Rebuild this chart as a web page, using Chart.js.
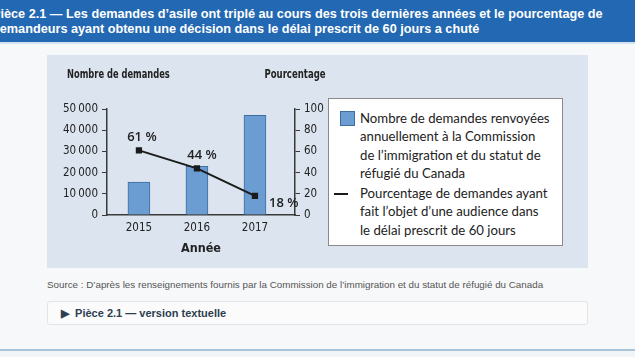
<!DOCTYPE html>
<html lang="fr">
<head>
<meta charset="utf-8">
<script src="https://cdn.jsdelivr.net/npm/chart.js@4/dist/chart.umd.min.js"></script>
<style>
  html, body { margin:0; padding:0; }
  body { width:635px; height:357px; background:#f7f8f9; position:relative; overflow:hidden; font-family:"Liberation Sans", Arial, sans-serif; }
  #hdr { position:absolute; left:0; top:0; width:635px; height:42px; background:#2268b2; border-bottom:2px solid #d5e3f1; }
  #hdr div { position:absolute; left:-8px; top:7px; color:#fff; font-weight:bold; font-size:12.7px; line-height:15px; white-space:nowrap; }
  #box { position:absolute; left:47px; top:55px; width:541px; height:213px; background:#dbe4ef; }
  #cv { position:absolute; left:0; top:0; }
  #legend { position:absolute; left:281px; top:43px; width:233px; height:146px; background:#fff; border:1px solid #8a8a8a; font-family:Lato, "Open Sans", sans-serif; font-size:13.2px; color:#222; }
  .item { position:absolute; left:31px; line-height:18.3px; white-space:nowrap; }
  .sw { position:absolute; }
  #src { position:absolute; left:47px; top:279px; font-size:9.8px; color:#555; white-space:nowrap; }
  #det { position:absolute; left:47px; top:301px; width:539px; height:22px; border:1px solid #e2e4e6; border-radius:3px; background:#fbfbfb; }
  #det span { position:absolute; left:13px; top:5px; font-size:11px; font-weight:bold; color:#2c3e50; white-space:nowrap; }
  #bot { position:absolute; left:0; top:349px; width:635px; height:2px; background:#a9c3d9; }
  #bot2 { position:absolute; left:0; top:351px; width:635px; height:6px; background:#f2f5f8; }
</style>
</head>
<body>
<div id="hdr"><div>Pièce 2.1 — Les demandes d’asile ont triplé au cours des trois dernières années et le pourcentage de<br>demandeurs ayant obtenu une décision dans le délai prescrit de 60 jours a chuté</div></div>
<div id="box">
  <canvas id="cv" width="541" height="213"></canvas>
  <div id="legend"></div>
</div>
<div id="src">Source : D’après les renseignements fournis par la Commission de l’immigration et du statut de réfugié du Canada</div>
<div id="det"><span>▶&nbsp; Pièce 2.1 — version textuelle</span></div>
<div id="bot"></div><div id="bot2"></div>
<script>
// ---- data ----
const years = [2015, 2016, 2017];
const demandes = [15500, 23000, 47000];
const pourcentages = [61, 44, 18];
const leftTicks = [0, 10000, 20000, 30000, 40000, 50000];
const rightTicks = [0, 20, 40, 60, 80, 100];
const leftTitle = "Nombre de demandes";
const rightTitle = "Pourcentage";
const xTitle = "Année";
const barLegend = ["Nombre de demandes renvoyées", "annuellement à la Commission", "de l’immigration et du statut de", "réfugié du Canada"];
const lineLegend = ["Pourcentage de demandes ayant", "fait l’objet d’une audience dans", "le délai prescrit de 60 jours"];

const BAR_FILL = '#6b9dd2', BAR_BORDER = '#3f6e9e', LINE_COL = '#1b1b1b', AXIS_COL = '#3a3a3a';
const condensed = '"Liberation Sans Narrow", "DejaVu Sans Condensed", sans-serif';

function fmt(v){ return v === 0 ? '0' : String(v).replace(/\B(?=(\d{3})+(?!\d))/g, '\u202F'); }

// legend (HTML)
const lg = document.getElementById('legend');
function addItem(lines, top, swatchHtml) {
  const d = document.createElement('div'); d.className='item'; d.style.top = top+'px';
  d.innerHTML = lines.join('<br>'); lg.appendChild(d);
  lg.insertAdjacentHTML('beforeend', swatchHtml);
}
addItem(barLegend, 10, '<div class="sw" style="left:11px;top:12px;width:13px;height:13px;background:'+BAR_FILL+';border:1px solid '+BAR_BORDER+'"></div>');
addItem(lineLegend, 85, '<div class="sw" style="left:5px;top:94px;width:14px;height:2px;background:'+LINE_COL+'"></div>');

function narrowText(ctx, txt, x, y, align, sx) {
  ctx.save();
  ctx.translate(x, y);
  ctx.scale(sx, 1);
  ctx.textAlign = align;
  ctx.fillText(txt, 0, 0);
  ctx.restore();
}

const titles = {
  id: 'titles',
  afterDraw(chart) {
    const {ctx, chartArea} = chart;
    ctx.save();
    ctx.fillStyle = '#222';
    ctx.font = 'bold 12.5px ' + condensed;
    ctx.textBaseline = 'middle';
    narrowText(ctx, leftTitle, chartArea.left - 40, 20, 'left', 0.74);
    narrowText(ctx, rightTitle, chartArea.right, 20, 'center', 0.76);
    // point value labels
    const meta = chart.getDatasetMeta(1);
    ctx.font = '600 13px "Open Sans", sans-serif';
    ctx.fillStyle = '#222';
    meta.data.forEach((pt, i) => {
      const txt = pourcentages[i] + ' %';
      if (i === meta.data.length - 1) {
        ctx.textAlign = 'left';
        ctx.fillText(txt, pt.x + 14, pt.y + 7);
      } else {
        ctx.textAlign = 'center';
        ctx.fillText(txt, pt.x + (i === 0 ? 3 : 5), pt.y - 13);
      }
    });
    ctx.restore();
  }
};

new Chart(document.getElementById('cv'), {
  type: 'bar',
  data: {
    datasets: [
      { type: 'bar', label: barLegend.join(' '), data: years.map((y, i) => ({x: y, y: demandes[i]})),
        backgroundColor: BAR_FILL, borderColor: BAR_BORDER, borderWidth: 1, barThickness: 22, yAxisID: 'y', order: 2 },
      { type: 'line', label: lineLegend.join(' '), data: years.map((y, i) => ({x: y, y: pourcentages[i]})),
        borderColor: LINE_COL, backgroundColor: LINE_COL, borderWidth: 2, pointStyle: 'rect', pointRadius: 3,
        tension: 0, yAxisID: 'y1', order: 1 }
    ]
  },
  options: {
    responsive: false, animation: false, devicePixelRatio: 1,
    layout: { padding: { left: 0, top: 54, right: 253, bottom: 6 } },
    plugins: { legend: { display: false }, tooltip: { enabled: false } },
    scales: {
      x: {
        type: 'linear', min: 2014.45, max: 2017.69, offset: false,
        afterBuildTicks: s => { s.ticks = years.map(v => ({value: v})); },
        afterFit: s => { s.height = 47; },
        grid: { display: false, drawTicks: false },
        border: { display: true, color: AXIS_COL, width: 1.5 },
        ticks: { padding: 6, color: '#222', font: { family: condensed, size: 11.5 }, callback: v => String(v) },
        title: { display: true, text: xTitle, color: '#222', font: { family: condensed, size: 12.5, weight: 'bold' }, padding: { top: 0, bottom: 6 } }
      },
      y: {
        position: 'left', min: 0, max: 50000,
        afterBuildTicks: s => { s.ticks = leftTicks.map(v => ({value: v})); },
        afterFit: s => { s.width = 60; },
        grid: { display: true, drawOnChartArea: false, drawTicks: true, tickLength: 5, color: AXIS_COL, lineWidth: 1 },
        border: { display: true, color: AXIS_COL, width: 1.5 },
        ticks: { padding: 4, color: '#222', font: { family: condensed, size: 11.5 }, callback: v => fmt(v) }
      },
      y1: {
        position: 'right', min: 0, max: 100,
        afterBuildTicks: s => { s.ticks = rightTicks.map(v => ({value: v})); },
        afterFit: s => { s.width = 40; },
        grid: { display: true, drawOnChartArea: false, drawTicks: true, tickLength: 5, color: AXIS_COL, lineWidth: 1 },
        border: { display: true, color: AXIS_COL, width: 1.5 },
        ticks: { padding: 4, color: '#222', font: { family: condensed, size: 11.5 }, callback: v => String(v) }
      }
    }
  },
  plugins: [titles]
});
</script>
</body>
</html>
